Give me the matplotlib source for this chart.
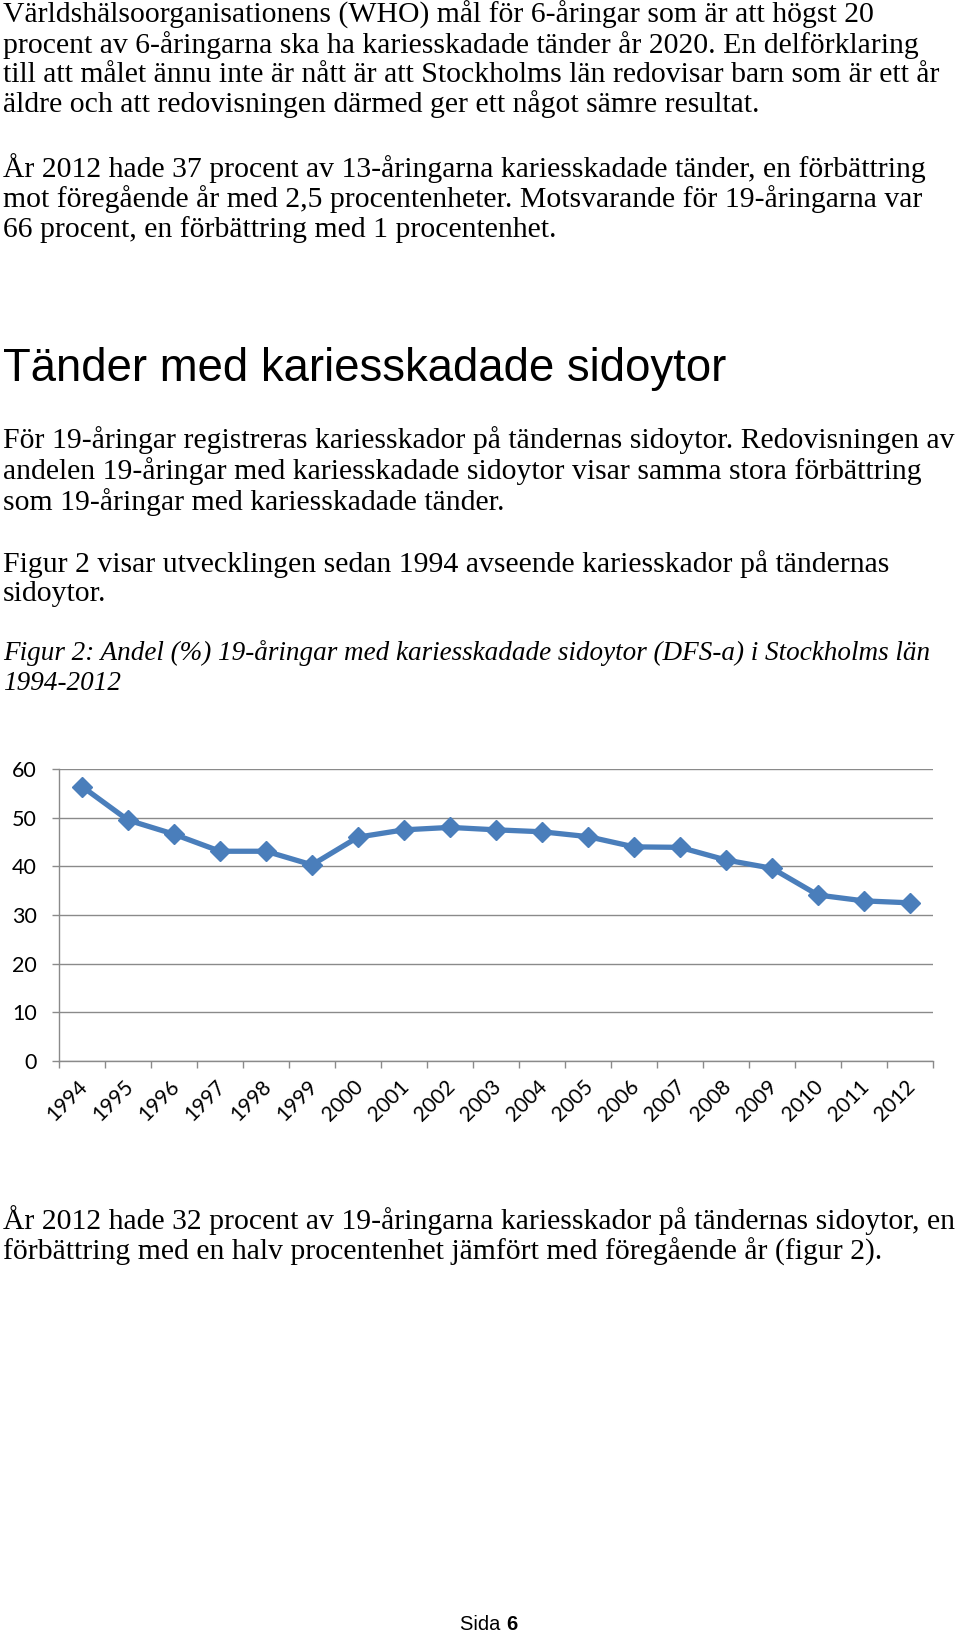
import matplotlib
matplotlib.use("Agg")
import matplotlib.pyplot as plt
import matplotlib.transforms as mtransforms
import numpy as np

# ---------------- data ----------------
years = ["1994", "1995", "1996", "1997", "1998", "1999", "2000", "2001", "2002",
         "2003", "2004", "2005", "2006", "2007", "2008", "2009", "2010", "2011", "2012"]
share_dfs = [56.4, 49.5, 46.6, 43.1, 43.1, 40.3, 46.0, 47.5, 48.0,
             47.5, 47.1, 46.1, 44.0, 43.9, 41.3, 39.6, 34.1, 32.9, 32.5]
y_ticks = [0, 10, 20, 30, 40, 50, 60]

para1 = ["Världshälsoorganisationens (WHO) mål för 6-åringar som är att högst 20",
         "procent av 6-åringarna ska ha kariesskadade tänder år 2020. En delförklaring",
         "till att målet ännu inte är nått är att Stockholms län redovisar barn som är ett år",
         "äldre och att redovisningen därmed ger ett något sämre resultat."]
para2 = ["År 2012 hade 37 procent av 13-åringarna kariesskadade tänder, en förbättring",
         "mot föregående år med 2,5 procentenheter. Motsvarande för 19-åringarna var",
         "66 procent, en förbättring med 1 procentenhet."]
heading = "Tänder med kariesskadade sidoytor"
para3 = ["För 19-åringar registreras kariesskador på tändernas sidoytor. Redovisningen av",
         "andelen 19-åringar med kariesskadade sidoytor visar samma stora förbättring",
         "som 19-åringar med kariesskadade tänder."]
para4 = ["Figur 2 visar utvecklingen sedan 1994 avseende kariesskador på tändernas",
         "sidoytor."]
caption = ["Figur 2: Andel (%) 19-åringar med kariesskadade sidoytor (DFS-a) i Stockholms län",
           "1994-2012"]
para5 = ["År 2012 hade 32 procent av 19-åringarna kariesskador på tändernas sidoytor, en",
         "förbättring med en halv procentenhet jämfört med föregående år (figur 2)."]

# ---------------- layout ----------------
W, H = 960, 1635
fig = plt.figure(figsize=(W / 100, H / 100), dpi=100)
fig.patch.set_facecolor("white")


def fx(x):
    return x / W


def fy(y):
    return 1 - y / H


renderer = fig.canvas.get_renderer()
LEFT = 3
BODY_FONT = "Liberation Serif"
SANS = "Liberation Sans"

# (lines, y-centres in px, target right edge of the widest line, style)
blocks = [
    (para1, [15, 45.5, 75, 104.5], 950, "normal"),
    (para2, [168, 199, 230], 925, "normal"),
    (para3, [440, 471, 502], 956, "normal"),
    (para4, [564, 594], 887, "normal"),
    (caption, [653.5, 683], 935, "italic"),
    (para5, [1220.5, 1251.5], 953, "normal"),
]

base = 17.0
body_texts = []
ratios = []
cap_texts = []
cap_ratio = None
for lines, ys, target, style in blocks:
    widest = max(lines, key=len)
    for line, y in zip(lines, ys):
        t = fig.text(fx(LEFT), fy(y), line, fontsize=base, family=BODY_FONT,
                     style=style, ha="left", va="center", color="black")
        if style == "italic":
            cap_texts.append(t)
        else:
            body_texts.append(t)
        if line == widest:
            w = t.get_window_extent(renderer).width
            r = (target - LEFT) / w
            if style == "italic":
                cap_ratio = r
            else:
                ratios.append(r)

body_size = base * float(np.median(ratios))
for t in body_texts:
    t.set_fontsize(body_size)
for t in cap_texts:
    t.set_fontsize(base * cap_ratio)

# heading
h = fig.text(fx(LEFT), fy(369), heading, fontsize=30, family=SANS,
             ha="left", va="center", color="black")
hw = h.get_window_extent(renderer).width
h.set_fontsize(30 * (726 - LEFT) / hw)

# footer
fig.text(fx(506), fy(1624), "Sida ", fontsize=14.5, family=SANS, ha="right", va="center")
fig.text(fx(506), fy(1624), "6", fontsize=14.5, family=SANS, weight="bold", ha="left", va="center")

# ---------------- chart ----------------
x0, x1 = 59, 933
ytop, ybot = 769, 1061
ax = fig.add_axes([fx(x0), fy(ybot), (x1 - x0) / W, (ybot - ytop) / H])
xpos = np.arange(len(years))
ax.plot(xpos, share_dfs, color="#4A7EBB", lw=3.8, marker="D", markersize=10.5,
        markerfacecolor="#4A7EBB", markeredgecolor="#4A7EBB", solid_joinstyle="round",
        zorder=3, clip_on=False)

ax.set_xlim(-0.5, len(years) - 0.5)
ax.set_ylim(0, 60)
grid_c = "#8A8A8A"
ax.set_yticks(y_ticks)
ax.yaxis.grid(True, color=grid_c, lw=1.0)
ax.set_axisbelow(True)
for s in ["top", "right"]:
    ax.spines[s].set_visible(False)
for s in ["left", "bottom"]:
    ax.spines[s].set_color(grid_c)
    ax.spines[s].set_linewidth(1.0)

tick_font = "Lato"
ax.tick_params(axis="y", length=5, width=1.0, color=grid_c, pad=11,
               labelsize=15.5, labelcolor="black", labelfontfamily=tick_font)

ax.set_xticks(xpos)
ax.set_xticklabels(years)
ax.set_xticks(np.arange(-0.5, len(years), 1.0), minor=True)
ax.tick_params(axis="x", which="minor", length=5, width=1.0, color=grid_c)
ax.tick_params(axis="x", which="major", length=0, pad=16, labelsize=15,
               labelcolor="black", labelfontfamily=tick_font)
offset = mtransforms.ScaledTranslation(2 / 100, 0, fig.dpi_scale_trans)
for lab in ax.get_xticklabels():
    lab.set_rotation(45)
    lab.set_ha("right")
    lab.set_va("center")
    lab.set_rotation_mode("anchor")
    lab.set_transform(lab.get_transform() + offset)

fig.savefig("out.png", dpi=100, facecolor="white")
